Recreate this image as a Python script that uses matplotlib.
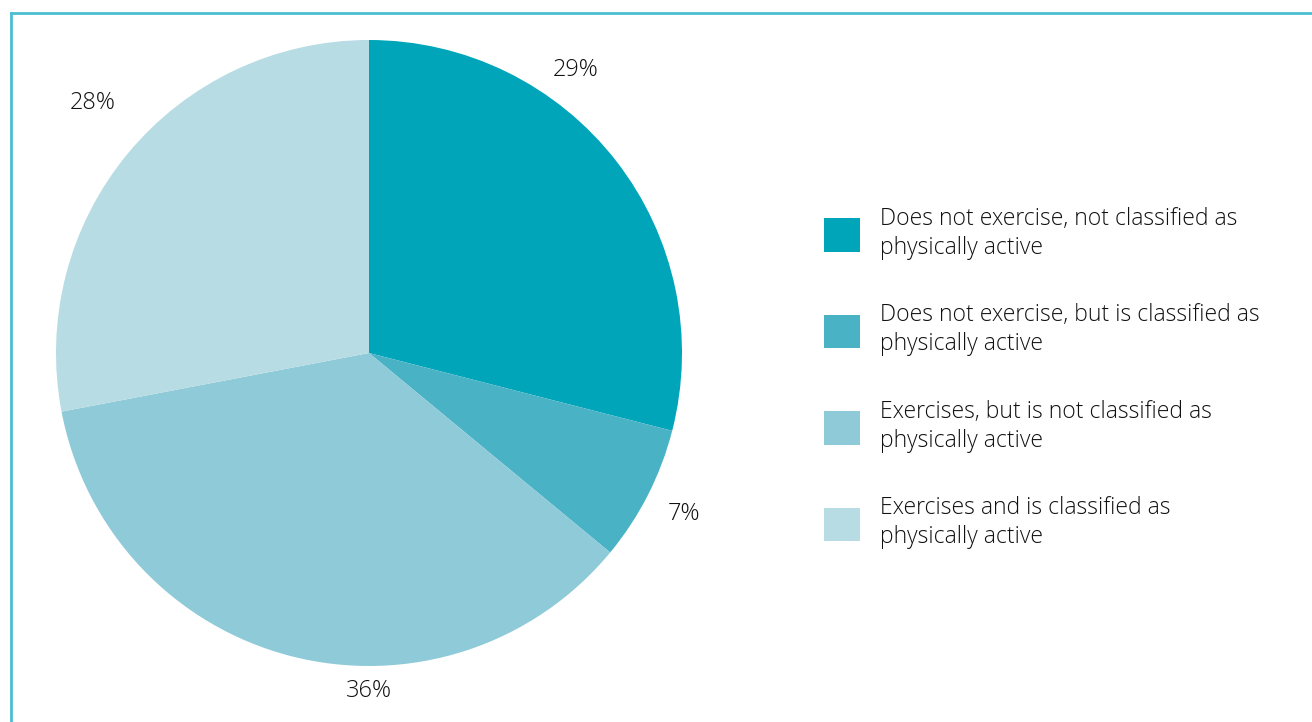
import numpy as np
import matplotlib
matplotlib.use("Agg")
import matplotlib.pyplot as plt
from matplotlib.patches import Patch
from matplotlib.lines import Line2D

plt.rcParams['font.family'] = ['Open Sans', 'DejaVu Sans']

# data
categories = [
    "Does not exercise, not classified as\nphysically active",
    "Does not exercise, but is classified as\nphysically active",
    "Exercises, but is not classified as\nphysically active",
    "Exercises and is classified as\nphysically active",
]
shares = [29, 7, 36, 28]
colors = ["#00a5ba", "#49b3c5", "#8fcad8", "#b7dce3"]

# label placement tweaks (degrees offset from wedge middle, radial distance)
label_offsets = [16, 0, 14.4, -2.6]
label_dists = [1.12, 1.13, 1.08, 1.19]

W, H = 1312, 722
fig = plt.figure(figsize=(W / 100, H / 100), dpi=100)

# frame lines on top and left
frame_color = "#4bbfcf"
fig.add_artist(Line2D([11 / W, 11 / W], [0, 1 - 13 / H], color=frame_color, lw=2,
                      transform=fig.transFigure))
fig.add_artist(Line2D([11 / W, 1], [1 - 13 / H, 1 - 13 / H], color=frame_color, lw=2,
                      transform=fig.transFigure))

cx, cy, r = 369, H - 353, 313
ax = fig.add_axes([(cx - r) / W, (cy - r) / H, 2 * r / W, 2 * r / H])
wedges, _ = ax.pie(shares, colors=colors, startangle=90, counterclock=False,
                   radius=1.0, wedgeprops=dict(linewidth=0))
ax.set_xlim(-1, 1)
ax.set_ylim(-1, 1)
ax.set_aspect('equal')
ax.axis('off')

for w, val, off, d in zip(wedges, shares, label_offsets, label_dists):
    mid = np.deg2rad((w.theta1 + w.theta2) / 2 + off)
    ax.text(d * np.cos(mid), d * np.sin(mid), f"{val}%", ha='center', va='center',
            fontsize=17, color='#111111', fontweight='light', clip_on=False)

fs = 16.5
sq = 25.92  # square side in points (36 px)
handles = [Patch(facecolor=c, edgecolor='none') for c in colors]
leg = fig.legend(handles, categories, loc='center left',
                 bbox_to_anchor=(813 / W, 1 - 378 / H), frameon=False,
                 fontsize=fs, handlelength=sq / fs, handleheight=sq / fs + 0.3,
                 handletextpad=20 / 1.389 / fs, labelspacing=1.9, borderpad=0)
for t in leg.get_texts():
    t.set_linespacing(1.27)
    t.set_color('#111111')
    t.set_fontweight('light')

fig.savefig("out.png", dpi=100)
